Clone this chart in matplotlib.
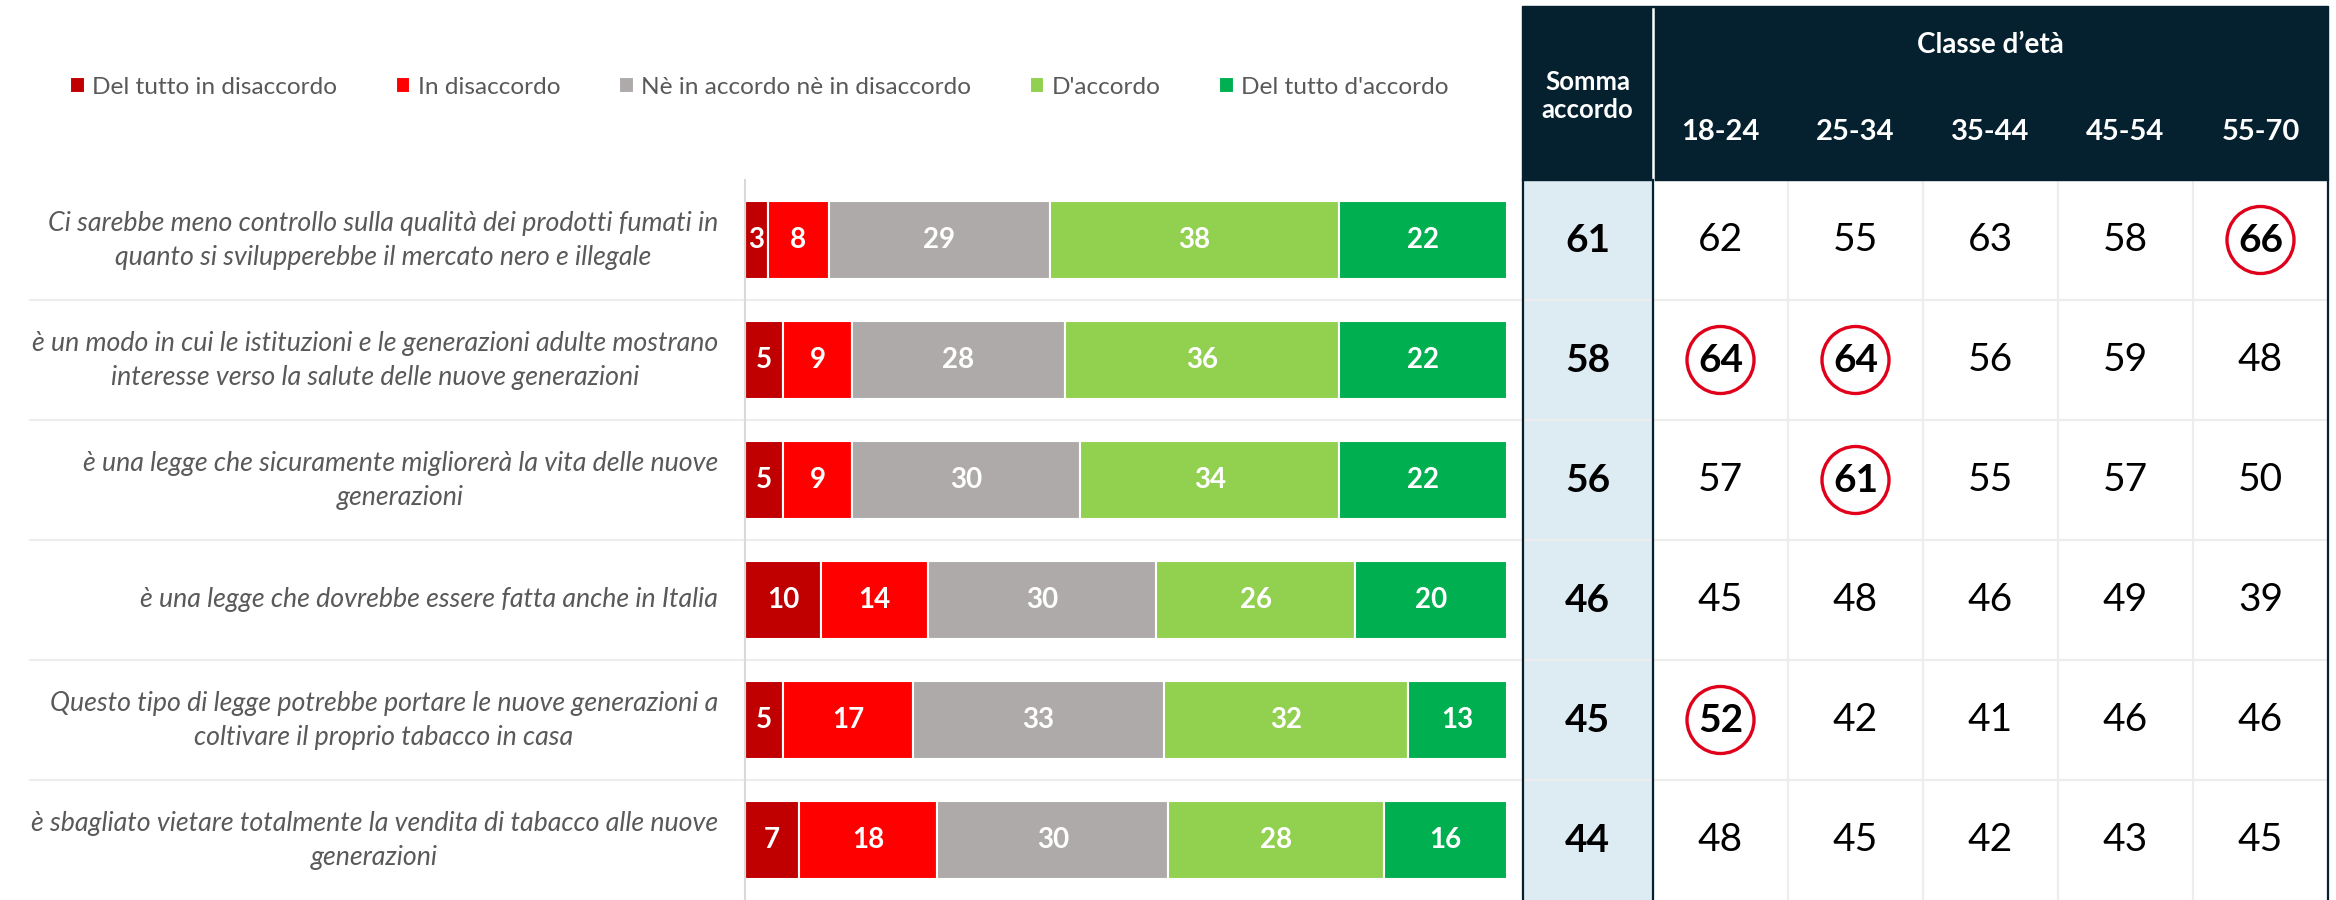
import numpy as np
import matplotlib
matplotlib.use('Agg')
import matplotlib.pyplot as plt
from matplotlib.patches import Rectangle, Ellipse

plt.rcParams['font.family'] = ['Lato', 'DejaVu Sans']

# Data ----
statements = [
    "Ci sarebbe meno controllo sulla qualità dei prodotti fumati in\nquanto si svilupperebbe il mercato nero e illegale",
    "è un modo in cui le istituzioni e le generazioni adulte mostrano\ninteresse verso la salute delle nuove generazioni",
    "è una legge che sicuramente migliorerà la vita delle nuove\ngenerazioni",
    "è una legge che dovrebbe essere fatta anche in Italia",
    "Questo tipo di legge potrebbe portare le nuove generazioni a\ncoltivare il proprio tabacco in casa",
    "è sbagliato vietare totalmente la vendita di tabacco alle nuove\ngenerazioni",
]
risposte = ["Del tutto in disaccordo", "In disaccordo", "Nè in accordo nè in disaccordo",
            "D'accordo", "Del tutto d'accordo"]
del_tutto_disaccordo = [3, 5, 5, 10, 5, 7]
in_disaccordo = [8, 9, 9, 14, 17, 18]
neutro = [29, 28, 30, 30, 33, 30]
d_accordo = [38, 36, 34, 26, 32, 28]
del_tutto_accordo = [22, 22, 22, 20, 13, 16]

somma_accordo = [61, 58, 56, 46, 45, 44]
classi_eta = ["18-24", "25-34", "35-44", "45-54", "55-70"]
eta_18_24 = [62, 64, 57, 45, 52, 48]
eta_25_34 = [55, 64, 61, 48, 42, 45]
eta_35_44 = [63, 56, 55, 46, 41, 42]
eta_45_54 = [58, 59, 57, 49, 46, 43]
eta_55_70 = [66, 48, 50, 39, 46, 45]
# (row, age column) cells that are circled
evidenziati = [(0, 4), (1, 0), (1, 1), (2, 1), (4, 0)]

# Style ----
colori = ['#C00000', '#FF0000', '#AEAAAA', '#92D050', '#00B050']
navy = '#05212F'
grigio_testo = '#595959'
grigio_linee = '#EDEDED'

W, H = 2336, 900
fig = plt.figure(figsize=(W / 100, H / 100), dpi=100)

# Background axes in pixel x / row y, for labels, separators and the table
ax_o = fig.add_axes([0, 0, 1, 1], zorder=0)
ax_o.set_xlim(0, W)
ax_o.set_ylim(5.5, -2.0)
ax_o.axis('off')

# Stacked 100% bars ----
ax = fig.add_axes([745 / W, 0, (1507 - 745) / W, 720 / H], zorder=1)
ax.patch.set_visible(False)
serie = np.array([del_tutto_disaccordo, in_disaccordo, neutro, d_accordo, del_tutto_accordo], dtype=float)
quote = serie / serie.sum(axis=0) * 100
y = np.arange(len(statements))
left = np.zeros(len(statements))
handles = []
for k in range(len(risposte)):
    bars = ax.barh(y, quote[k], left=left, height=0.65, color=colori[k],
                   edgecolor='white', linewidth=1.5, label=risposte[k])
    ax.bar_label(bars, labels=[str(int(v)) for v in serie[k]], label_type='center',
                 color='white', fontsize=20, fontweight='bold')
    handles.append(bars)
    left += quote[k]
ax.set_xlim(0, 100)
ax.set_ylim(5.5, -0.5)
ax.set_xticks([])
ax.set_yticks([])
for s in ['top', 'right', 'bottom']:
    ax.spines[s].set_visible(False)
ax.spines['left'].set_color('#D9D9D9')
ax.spines['left'].set_linewidth(1.5)

fig.legend(handles=handles, labels=risposte, loc='center left',
           bbox_to_anchor=(70 / W, 1 - 87 / H), ncol=5, frameon=False,
           handlelength=0.6, handleheight=0.6, handletextpad=0.3,
           columnspacing=2.4, fontsize=17.6, labelcolor=grigio_testo,
           borderaxespad=0, borderpad=0)

# Row labels and separators
for i, testo in enumerate(statements):
    ax_o.text(718, i, testo, ha='right', va='center', multialignment='center',
              style='italic', color=grigio_testo, fontsize=19.3, linespacing=1.45)
for i in range(len(statements) - 1):
    ax_o.plot([30, 2328], [i + 0.5, i + 0.5], color=grigio_linee, lw=1.6, zorder=1)

# Table ----
x0, x_somma, x1, w_eta = 1522, 1653, 2328, 135
ax_o.add_patch(Rectangle((x0, -1.95), x1 - x0, 1.45, color=navy, zorder=2))
ax_o.plot([x_somma, x_somma], [-1.925, -0.5], color='white', lw=1.8, zorder=3)
ax_o.add_patch(Rectangle((x0, -0.5), x_somma - x0, 6.0, color='#DDEBF3', zorder=0.5))
for j in range(1, len(classi_eta)):
    xx = x_somma + j * w_eta
    ax_o.plot([xx, xx], [-0.5, 5.5], color=grigio_linee, lw=1.6, zorder=1)
for xx in [x0 + 1, x_somma, x1]:
    ax_o.plot([xx, xx], [-0.5, 5.5], color=navy, lw=1.6, zorder=3)

x_somma_c = (x0 + x_somma) / 2
ax_o.text(x_somma_c, -1.2, "Somma\naccordo", ha='center', va='center', color='white',
          fontsize=18.5, fontweight='bold', linespacing=1.15, zorder=4)
ax_o.text((x_somma + x1) / 2, -1.625, "Classe d\u2019età",
          ha='center', va='center', color='white', fontsize=20, fontweight='bold', zorder=4)
for j, eta in enumerate(classi_eta):
    ax_o.text(x_somma + (j + 0.5) * w_eta, -0.9, eta, ha='center', va='center',
              color='white', fontsize=21, fontweight='bold', zorder=4)

valori_eta = [eta_18_24, eta_25_34, eta_35_44, eta_45_54, eta_55_70]
for i in range(len(statements)):
    ax_o.text(x_somma_c, i, str(somma_accordo[i]), ha='center', va='center',
              fontsize=28, fontweight='bold', color='black', zorder=4)
    for j, col in enumerate(valori_eta):
        xc = x_somma + (j + 0.5) * w_eta
        bold = (i, j) in evidenziati
        ax_o.text(xc, i, str(col[i]), ha='center', va='center', fontsize=28,
                  fontweight='bold' if bold else 'normal', color='black', zorder=4)
        if bold:
            ax_o.add_patch(Ellipse((xc, i), 67, 67 / 120, fill=False,
                                   edgecolor='#E0001B', lw=2.4, zorder=4))

fig.savefig('out.png', dpi=100)
